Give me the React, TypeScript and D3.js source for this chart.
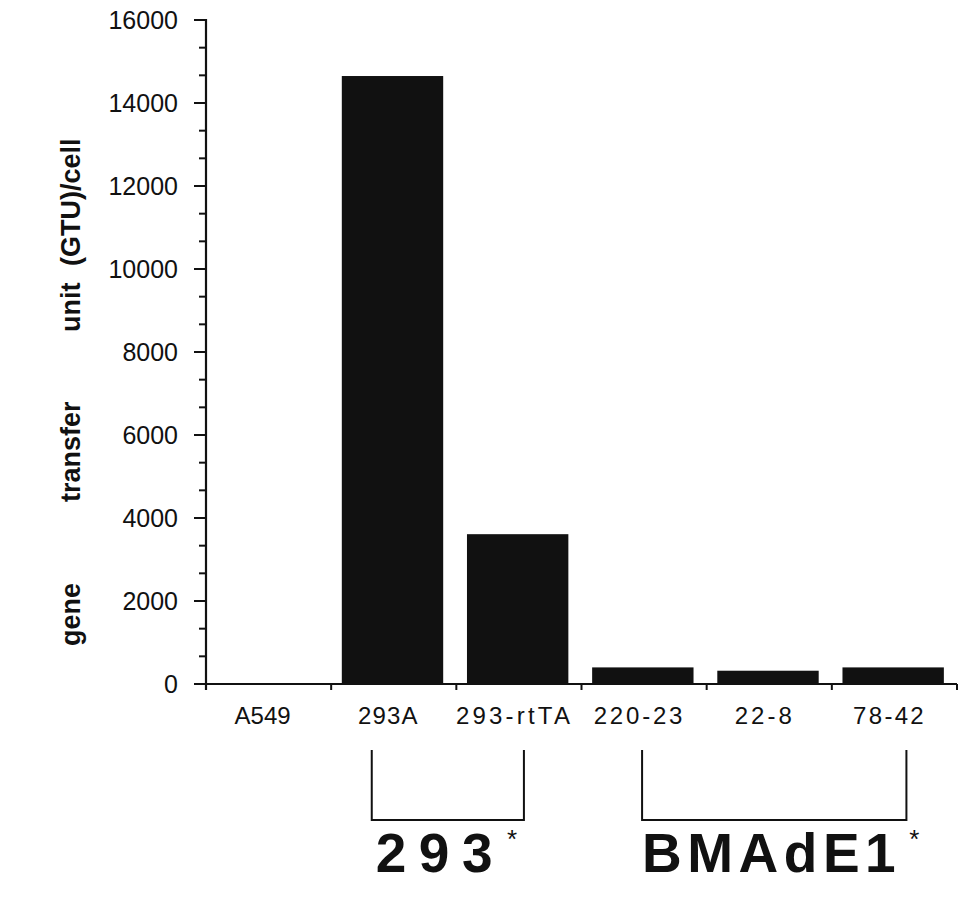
import React from "react";
import * as d3 from "d3";

const categories = ["A549", "293A", "293-rtTA", "220-23", "22-8", "78-42"];
const values = [0, 14650, 3610, 400, 320, 400];
const yTicks = [0, 2000, 4000, 6000, 8000, 10000, 12000, 14000, 16000];
const groupLabels = ["293", "BMAdE1"];
const groupFrom = ["293A", "220-23"];
const groupTo = ["293-rtTA", "78-42"];
const titleWords = ["gene", "transfer", "unit", "(GTU)/cell"];

// styling (not data)
const labelSpacing = [0, 1.2, 3.2, 2.8, 3.0, 2.3];
const titleWordPos = [646, 502, 332, 266];
const groupOffsets = [[-22, 5], [-2, 12]];
const groupLabelSpacing = [12.5, 5.5];
const groupLabelShift = [4, 0];
const starGap = [2, 8];

const W = 968;
const H = 897;
const FONT = "'Liberation Sans', Arial, Helvetica, sans-serif";

export default function App() {
  const x0 = 206, x1 = 957, yTop = 20, yBase = 684;
  const x = d3.scaleBand<string>().domain(categories).range([x0, x1]).paddingInner(0).paddingOuter(0);
  const y = d3.scaleLinear().domain([0, 16000]).range([yBase, yTop]);
  const bw = x.bandwidth();
  const minor = d3.range(0, 16000, 2000 / 3).filter((v) => Math.abs(v % 2000) > 1 && Math.abs((v % 2000) - 2000) > 1);
  const center = (c: string) => (x(c) as number) + bw / 2;

  return (
    <svg width={W} height={H} style={{ position: "absolute", left: 0, top: 0, background: "#fff" }} fontFamily={FONT}>
      <rect width={W} height={H} fill="#fff" />
      {categories.map((c, i) => (
        <rect
          key={c}
          x={(x(c) as number) + bw * 0.085}
          width={bw * 0.81}
          y={y(values[i])}
          height={yBase - y(values[i])}
          fill="#111"
        />
      ))}
      <line x1={x0} x2={x0} y1={yTop - 1} y2={yBase + 6} stroke="#111" strokeWidth={2.2} />
      {yTicks.map((t) => (
        <g key={t}>
          <line x1={x0 - 12} x2={x0} y1={y(t)} y2={y(t)} stroke="#111" strokeWidth={2} />
          <text x={x0 - 28} y={y(t)} dy="0.36em" textAnchor="end" fontSize={25} fill="#111">
            {t}
          </text>
        </g>
      ))}
      {minor.map((t) => (
        <line key={t} x1={x0 - 7} x2={x0} y1={y(t)} y2={y(t)} stroke="#111" strokeWidth={2} />
      ))}
      <line x1={x0} x2={x1} y1={yBase} y2={yBase} stroke="#111" strokeWidth={2.2} />
      {categories.map((c) => (
        <line key={c} x1={(x(c) as number) + bw} x2={(x(c) as number) + bw} y1={yBase} y2={yBase + 6} stroke="#111" strokeWidth={2} />
      ))}
      {categories.map((c, i) => (
        <text key={c} x={center(c) - 6 + labelSpacing[i] / 2} y={724} textAnchor="middle" fontSize={24} letterSpacing={labelSpacing[i]} fill="#111">
          {c}
        </text>
      ))}
      <g transform={`translate(80,0) rotate(-90)`}>
        {titleWords.map((w, i) => (
          <text key={w} x={-titleWordPos[i]} y={0} fontSize={27} fontWeight="bold" fill="#111">
            {w}
          </text>
        ))}
      </g>
      {groupLabels.map((g, i) => {
        const a = center(groupFrom[i]) + groupOffsets[i][0];
        const b = center(groupTo[i]) + groupOffsets[i][1];
        return (
          <g key={g}>
            <path d={`M${a},750 V820 H${b} V750`} fill="none" stroke="#111" strokeWidth={2} />
            <text x={a + groupLabelShift[i]} y={872} fontSize={55} fontWeight="bold" fill="#111">
              <tspan letterSpacing={groupLabelSpacing[i]}>{g}</tspan>
              <tspan dx={starGap[i]} dy={-24} fontSize={26} fontWeight="normal" letterSpacing={0}>
                *
              </tspan>
            </text>
          </g>
        );
      })}
    </svg>
  );
}
